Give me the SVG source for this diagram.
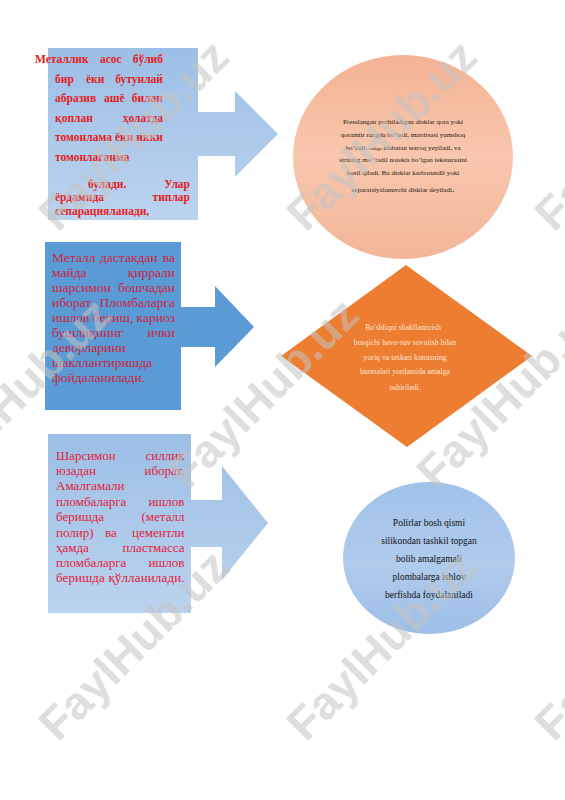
<svg xmlns="http://www.w3.org/2000/svg" width="565" height="800" viewBox="0 0 565 800">
<defs>
<linearGradient id="gBlue" x1="0" y1="0" x2="0" y2="1">
<stop offset="0" stop-color="#9CBFE6"/>
<stop offset="1" stop-color="#BBD3EE"/>
</linearGradient>
<linearGradient id="gPeach" x1="0" y1="0" x2="0" y2="1">
<stop offset="0" stop-color="#F4B293"/>
<stop offset="0.5" stop-color="#F8C7AE"/>
<stop offset="1" stop-color="#F3B598"/>
</linearGradient>
<linearGradient id="gBlue2" x1="0" y1="0" x2="0" y2="1">
<stop offset="0" stop-color="#A0C2E9"/>
<stop offset="0.55" stop-color="#B0CBEC"/>
<stop offset="1" stop-color="#9DBEE6"/>
</linearGradient>
<style>
.ser { font-family: "Liberation Serif", "Times New Roman", serif; }
.r1 { font-weight: bold; font-size: 11.5px; fill: #E31E24; }
.r2 { font-size: 13.5px; fill: #CF1F3F; }
.r3 { font-size: 13px; fill: #E3203A; }
.t1 { font-size: 7px; fill: #2a1a12; text-anchor: middle; }
.t2 { font-size: 7.8px; fill: #FCE4D6; text-anchor: middle; }
.t3 { font-size: 9.5px; fill: #111111; text-anchor: middle; }
.e { text-anchor: end; }
.wm { font-family: "Liberation Sans", Arial, sans-serif; font-weight: bold; font-size: 46px; fill: #c4c4c4; opacity: 0.55; }
</style>
</defs>
<rect width="565" height="800" fill="#ffffff"/>

<g id="connectors"></g>

<g id="node-callout1">
<path d="M48,48 H198 V112 H235 V91 L278,134 L235,177 V156 H198 V220 H48 Z" fill="url(#gBlue)"/>
<g class="ser r1">
<text x="35" y="63">Металлик</text><text x="100" y="63">асос</text><text class="e" x="163" y="63">бўлиб</text>
<text x="55" y="83">бир</text><text x="86" y="83">ёки</text><text class="e" x="163" y="83">бутунлай</text>
<text x="55" y="102">абразив</text><text x="104" y="102">ашё</text><text class="e" x="163" y="102">билан</text>
<text x="55" y="122">қоплан</text><text class="e" x="163" y="122">ҳолатда</text>
<text x="55" y="141" textLength="108" lengthAdjust="spacing">томонлама ёки икки</text>
<text x="55" y="161">томонлаганма</text>
<text x="88" y="188">булади.</text><text class="e" x="190" y="188">Улар</text>
<text x="55" y="201">ёрдамида</text><text class="e" x="190" y="201">типлар</text>
<text x="55" y="215">сепарацияланади,</text>
</g>
</g>

<g id="node-circle1">
<ellipse cx="403" cy="157" rx="110" ry="102" fill="url(#gPeach)"/>
<g class="ser t1">
<text x="403" y="124">Presslangan yechiladigan disklar qora yoki</text>
<text x="403" y="137">qoramtir rangda bo’ladi, matritsasi yumshoq</text>
<text x="403" y="149.5">bo’ladi, <tspan font-size="5px">toshga</tspan> nisbatan tezroq yeyiladi, va</text>
<text x="403" y="162">sirtning mo’’tadil notekis bo’lgan teksturasini</text>
<text x="403" y="175">hosil qiladi. Bu disklar karborundli yoki</text>
<text x="403" y="192">separatsiyalanuvchi  disklar deyiladi<tspan font-size="10px">.</tspan></text>
</g>
</g>

<g id="node-callout2">
<path d="M45,242 H181 V307 H215 V286 L254,327 L215,367 V347 H181 V410 H45 Z" fill="#5B9BD5"/>
<g class="ser r2">
<text x="52" y="262">Металл</text><text x="100" y="262">дастакдан</text><text class="e" x="175" y="262">ва</text>
<text x="52" y="277">майда</text><text class="e" x="175" y="277">қиррали</text>
<text x="52" y="292">шарсимон</text><text class="e" x="175" y="292">бошчадан</text>
<text x="52" y="307">иборат.</text><text class="e" x="175" y="307">Пломбаларга</text>
<text x="52" y="322" textLength="123" lengthAdjust="spacing">ишлов бериш, кариоз</text>
<text x="52" y="337">бушлиқнинг</text><text class="e" x="175" y="337">ички</text>
<text x="52" y="352">деворларини</text>
<text x="52" y="367">шакллантиришда</text>
<text x="52" y="382">фойдаланилади.</text>
</g>
</g>

<g id="node-diamond">
<polygon points="406,265 532,356 407,447 281,356" fill="#ED7D31"/>
<g class="ser t2">
<text x="403" y="330">Bo'shliqni shakllantirish</text>
<text x="405" y="344.5">bosqichi havo-suv sovutish bilan</text>
<text x="405" y="359.5">yoriq va teskari konusning</text>
<text x="405" y="374">burmalari yordamida amalga</text>
<text x="405" y="389.5">oshiriladi.</text>
</g>
</g>

<g id="node-callout3">
<path d="M48,434 H191 V500 H222 V466 L268,523 L222,580 V547 H191 V613 H48 Z" fill="url(#gBlue)"/>
<g class="ser r3">
<text x="56" y="459.5">Шарсимон</text><text class="e" x="184.5" y="459.5">силлик</text>
<text x="56" y="475">юзадан</text><text class="e" x="184.5" y="475">иборат.</text>
<text x="56" y="490">Амалгамали</text>
<text x="56" y="506">пломбаларга</text><text class="e" x="184.5" y="506">ишлов</text>
<text x="56" y="521">беришда</text><text class="e" x="184.5" y="521">(металл</text>
<text x="56" y="536.5">полир)</text><text x="105" y="536.5">ва</text><text class="e" x="184.5" y="536.5">цементли</text>
<text x="56" y="551.5">ҳамда</text><text class="e" x="184.5" y="551.5">пластмасса</text>
<text x="56" y="567">пломбаларга</text><text class="e" x="184.5" y="567">ишлов</text>
<text x="56" y="582" textLength="128.5" lengthAdjust="spacing">беришда қўлланилади.</text>
</g>
</g>

<g id="node-circle2">
<ellipse cx="429" cy="558" rx="86" ry="76" fill="url(#gBlue2)"/>
<g class="ser t3">
<text x="429" y="526">Polirlar bosh qismi</text>
<text x="429" y="544">silikondan tashkil topgan</text>
<text x="429" y="562">bolib amalgamali</text>
<text x="429" y="580">plombalarga ishlov</text>
<text x="429" y="597.5">berfishda foydalaniladi</text>
</g>
</g>

<g id="watermark">
<text class="wm" transform="translate(58,233) rotate(-45)">FaylHub.uz</text>
<text class="wm" transform="translate(306,233) rotate(-45)">FaylHub.uz</text>
<text class="wm" transform="translate(554,233) rotate(-45)">FaylHub.uz</text>
<text class="wm" transform="translate(-60,491) rotate(-45)">FaylHub.uz</text>
<text class="wm" transform="translate(188,491) rotate(-45)">FaylHub.uz</text>
<text class="wm" transform="translate(436,491) rotate(-45)">FaylHub.uz</text>
<text class="wm" transform="translate(58,743) rotate(-45)">FaylHub.uz</text>
<text class="wm" transform="translate(306,743) rotate(-45)">FaylHub.uz</text>
<text class="wm" transform="translate(554,743) rotate(-45)">FaylHub.uz</text>
</g>
</svg>
